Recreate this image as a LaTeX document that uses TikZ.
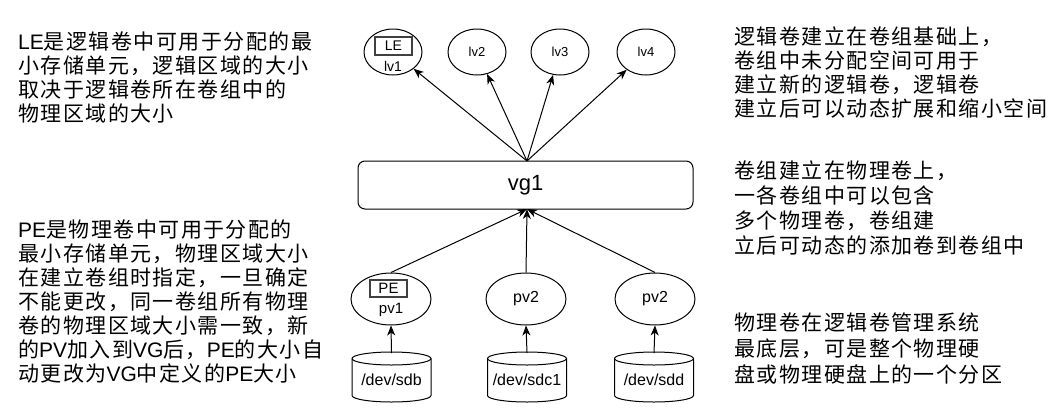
\documentclass[tikz,border=0pt]{standalone}
\usepackage{fontspec}
\setmainfont{Liberation Sans}
\newfontfamily\cjk[LetterSpace=7]{Noto Sans CJK SC}
\newfontfamily\lat{Liberation Sans}
\usetikzlibrary{arrows.meta,shapes.geometric}
\newcommand\mycyl[1]{%
  \draw[line width=1pt, fill=white] (#1-39.5,358.5) -- (#1-39.5,395.5)
    arc[start angle=180, end angle=0, x radius=39.5, y radius=6.5]
    -- (#1+39.5,358.5)
    arc[start angle=0, end angle=-180, x radius=39.5, y radius=6.5] -- cycle;
  \draw[line width=1pt] (#1-39.5,358.5)
    arc[start angle=180, end angle=0, x radius=39.5, y radius=6.5];
}
\begin{document}
\begin{tikzpicture}[x=1pt,y=-1pt,
  ell/.style={ellipse, draw, fill=white, line width=1pt, inner sep=0pt,
    minimum width=58pt, minimum height=46pt, font=\lat\fontsize{13}{15}\selectfont},
  pell/.style={ellipse, draw, fill=white, line width=1pt, inner sep=0pt,
    minimum width=80pt, minimum height=52pt, font=\lat\fontsize{16}{18}\selectfont},
  tagbox/.style={draw=black!75, line width=1.2pt, inner sep=0pt,
    minimum width=37pt, minimum height=18pt, font=\lat\fontsize{14}{16}\selectfont},
  lbl/.style={inner sep=0pt, font=\lat\fontsize{14}{16}\selectfont},
  dev/.style={inner sep=0pt, font=\lat\fontsize{16}{18}\selectfont},
  arr/.style={line width=1pt, -{Stealth[length=10pt,width=8pt,inset=3pt]}},
  note/.style={anchor=north west, inner sep=0pt, align=left},
]
\useasboundingbox[fill=white] (0,0) rectangle (1063,413);

% top ellipses
\node[ell] (lv1) at (393,52) {};
\node[tagbox] (le) at (393.5,46) {LE};
\node[lbl] (lv1t) at (393,66) {lv1};
\node[ell] (lv2) at (477,52) {lv2};
\node[ell] (lv3) at (560,52) {lv3};
\node[ell] (lv4) at (646,52) {lv4};

% vg1
\node[draw, fill=white, line width=1pt, rounded corners=7pt, minimum width=335pt,
  minimum height=48pt, inner sep=0pt, font=\lat\fontsize{22}{24}\selectfont]
  (vg) at (525.5,185) {vg1};
\coordinate (vgt) at (527,161);
\coordinate (vgb) at (527,209);

\draw[arr] (vgt) -- (lv1);
\draw[arr] (vgt) -- (lv2);
\draw[arr] (vgt) -- (lv3);
\draw[arr] (vgt) -- (lv4);

% physical volumes
\node[pell] (pv1) at (391,299) {};
\node[tagbox, minimum height=17pt, font=\lat\fontsize{15}{17}\selectfont] (pe) at (388.5,288.5) {PE};
\node[lbl, font=\lat\fontsize{15}{17}\selectfont] (pv1t) at (391,310) {pv1};
\node[pell] (pv2) at (526,299) {pv2};
\node[pell] (pv3) at (655,299) {pv2};

\draw[arr] (pv1.north) -- (vgb);
\draw[arr] (pv2.north) -- (vgb);
\draw[arr] (pv3.north) -- (vgb);

% disks
\mycyl{391.5}
\mycyl{527}
\mycyl{654}
\coordinate (c1) at (391.5,353);
\coordinate (c2) at (527,353);
\coordinate (c3) at (654,353);
\node[dev] (sdb) at (391.5,380) {/dev/sdb};
\node[dev] (sdc) at (527,380) {/dev/sdc1};
\node[dev] (sdd) at (654,380) {/dev/sdd};

\draw[arr] (c1) -- (pv1.south);
\draw[arr] (c2) -- (pv2.south);
\draw[arr] (c3) -- (pv3.south);

% notes
\node[note, font=\cjk\fontsize{21}{24}\selectfont] (n1) at (18,32)
  {{\lat LE}是逻辑卷中可用于分配的最\\小存储单元，逻辑区域的大小\\取决于逻辑卷所在卷组中的\\物理区域的大小};
\node[note, font=\cjk\fontsize{21}{24}\selectfont] (n2) at (18,220)
  {{\lat PE}是物理卷中可用于分配的\\最小存储单元，物理区域大小\\在建立卷组时指定，一旦确定\\不能更改，同一卷组所有物理\\卷的物理区域大小需一致，新\\的{\lat PV}加入到{\lat VG}后，{\lat PE}的大小自\\动更改为{\lat VG}中定义的{\lat PE}大小};
\node[note, font=\cjk\fontsize{21}{24}\selectfont] (n3) at (734,27)
  {逻辑卷建立在卷组基础上，\\卷组中未分配空间可用于\\建立新的逻辑卷，逻辑卷\\建立后可以动态扩展和缩小空间};
\node[note, font=\cjk\fontsize{21}{25}\selectfont] (n4) at (734,161)
  {卷组建立在物理卷上，\\一各卷组中可以包含\\多个物理卷，卷组建\\立后可动态的添加卷到卷组中};
\node[note, font=\cjk\fontsize{21}{26}\selectfont] (n5) at (734,313)
  {物理卷在逻辑卷管理系统\\最底层，可是整个物理硬\\盘或物理硬盘上的一个分区};
\end{tikzpicture}
\end{document}
